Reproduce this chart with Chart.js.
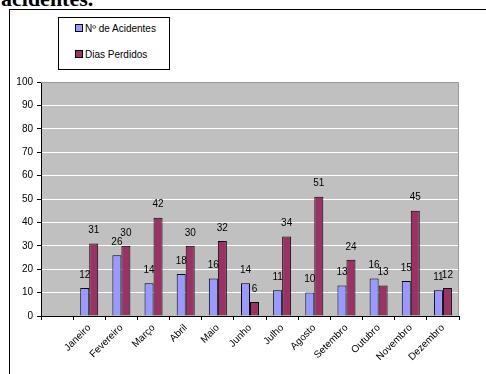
<!DOCTYPE html>
<html lang="pt">
<head>
<meta charset="UTF-8">
<title>Acidentes</title>
<style>
    body { margin: 0; width: 486px; height: 374px; overflow: hidden; background: #fff; position: relative; }
    .titulo { position: absolute; left: 1px; top: -12px; font: bold 22px "Liberation Serif", serif; line-height: 22px; color: #000; }
    .moldura { position: absolute; left: 9px; top: 9px; width: 520px; height: 400px; border-left: 1px solid #000; border-top: 1px solid #000; background: #fff; }
    #grafico { position: absolute; left: 0; top: 0; }
    .legenda { position: absolute; left: 58px; top: 17px; width: 112px; height: 53px; box-sizing: border-box; border: 1px solid #000; background: #fff; font: 10px "Liberation Sans", Arial, sans-serif; }
    .legenda div { position: absolute; left: 16px; white-space: nowrap; }
    .legenda span { display: inline-block; width: 6px; height: 6px; border: 1px solid #000; margin-right: 2px; vertical-align: 0px; }
</style>
</head>
<body>
<div class="titulo">acidentes.</div>
<div class="moldura"></div>
<canvas id="grafico" width="486" height="374"></canvas>
<div class="legenda" id="legenda"></div>

<script src="https://cdn.jsdelivr.net/npm/chart.js@4"></script>
<script>
    // meses (a primeira posição fica vazia)
    const meses = ['', 'Janeiro', 'Fevereiro', 'Março', 'Abril', 'Maio', 'Junho', 'Julho', 'Agosto', 'Setembro', 'Outubro', 'Novembro', 'Dezembro'];
    const acidentes = [null, 12, 26, 14, 18, 16, 14, 11, 10, 13, 16, 15, 11];
    const diasPerdidos = [null, 31, 30, 42, 30, 32, 6, 34, 51, 24, 13, 45, 12];
    const seriesNomes = ['Nº de Acidentes', 'Dias Perdidos'];
    const seriesCores = ['#9999FF', '#993366'];

    // fundo cinza da área do gráfico
    const fundoPlot = {
        id: 'fundoPlot',
        beforeDraw(chart) {
            const a = chart.chartArea, ctx = chart.ctx;
            ctx.save();
            ctx.fillStyle = '#C0C0C0';
            ctx.fillRect(a.left, a.top, a.right - a.left, a.bottom - a.top);
            ctx.restore();
        },
        afterDraw(chart) {
            const a = chart.chartArea, ctx = chart.ctx;
            ctx.save();
            ctx.strokeStyle = '#9a9a9a';
            ctx.lineWidth = 1;
            ctx.beginPath();
            ctx.moveTo(a.left, a.top + 0.5);
            ctx.lineTo(a.right - 0.5, a.top + 0.5);
            ctx.lineTo(a.right - 0.5, a.bottom);
            ctx.stroke();
            ctx.restore();
        }
    };

    // valores por cima das barras
    const rotulos = {
        id: 'rotulos',
        afterDatasetsDraw(chart) {
            const ctx = chart.ctx;
            ctx.save();
            ctx.font = '10px "Liberation Sans", Arial, sans-serif';
            ctx.fillStyle = '#000';
            ctx.textAlign = 'center';
            ctx.textBaseline = 'middle';
            chart.data.datasets.forEach((ds, i) => {
                chart.getDatasetMeta(i).data.forEach((bar, j) => {
                    const v = ds.data[j];
                    if (v == null) return;
                    ctx.fillText(String(v), bar.x, bar.y - 13);
                });
            });
            ctx.restore();
        }
    };

    const chart = new Chart(document.getElementById('grafico'), {
        type: 'bar',
        data: {
            labels: meses,
            datasets: [
                { label: seriesNomes[0], data: acidentes, backgroundColor: seriesCores[0], borderColor: '#000', borderWidth: 1 },
                { label: seriesNomes[1], data: diasPerdidos, backgroundColor: seriesCores[1], borderColor: '#000', borderWidth: 1 }
            ]
        },
        options: {
            responsive: false,
            animation: false,
            layout: { padding: { left: 0, top: 82, right: 27, bottom: 0 } },
            datasets: { bar: { categoryPercentage: 0.56, barPercentage: 1 } },
            plugins: { legend: { display: false }, tooltip: { enabled: false } },
            scales: {
                x: {
                    grid: { offset: true, drawOnChartArea: false, tickLength: 4, tickColor: '#000' },
                    border: { color: '#000', width: 1 },
                    ticks: { color: '#000', font: { family: '"Liberation Sans", Arial, sans-serif', size: 10 }, minRotation: 45, maxRotation: 45, autoSkip: false, padding: 2 },
                    afterFit(scale) { scale.height = 58; }
                },
                y: {
                    min: 0, max: 100,
                    grid: { color: '#fff', tickColor: '#000', tickLength: 4 },
                    border: { color: '#000', width: 1 },
                    ticks: { stepSize: 10, color: '#000', font: { family: '"Liberation Sans", Arial, sans-serif', size: 10 }, padding: 4 },
                    afterFit(scale) { scale.width = 41; }
                }
            }
        },
        plugins: [fundoPlot, rotulos]
    });

    // legenda montada a partir das séries
    const leg = document.getElementById('legenda');
    seriesNomes.forEach((nome, i) => {
        const d = document.createElement('div');
        d.style.top = (i === 0 ? 5 : 31) + 'px';
        d.innerHTML = '<span style="background:' + seriesCores[i] + '"></span>' + nome;
        leg.appendChild(d);
    });
</script>
</body>
</html>
